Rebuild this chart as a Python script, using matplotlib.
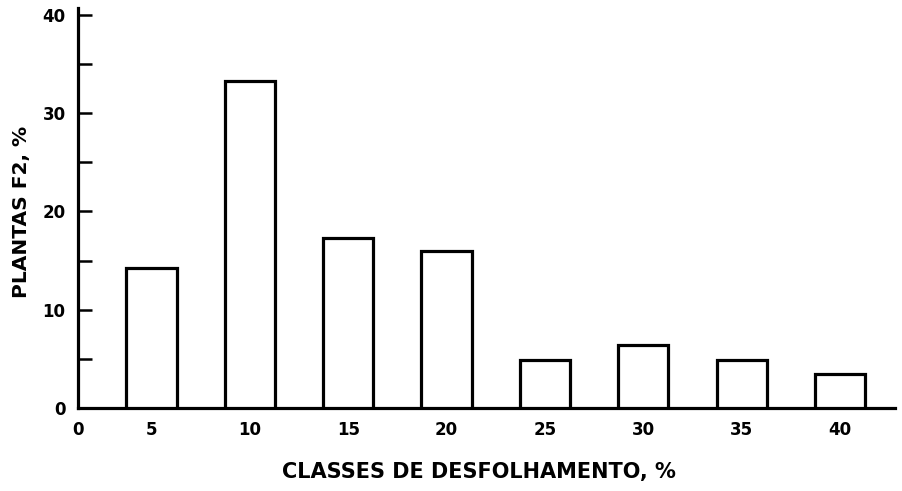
import matplotlib.pyplot as plt

# classes de desfolhamento (%) and share of F2 plants (%)
classes = [5, 10, 15, 20, 25, 30, 35, 40]
plantas = [14.2, 33.3, 17.3, 16.0, 4.9, 6.4, 4.9, 3.5]
class_labels = ["5", "10", "15", "20", "25", "30", "35", "40"]
y_ticks = [0, 5, 10, 15, 20, 25, 30, 35, 40]
y_labels = ["0", "", "10", "", "20", "", "30", "", "40"]

x_left = 1.27   # the hand-drawn axis origin sits a bit right of true zero
x_right = 42.8

fig = plt.figure(figsize=(9.02, 4.91), dpi=100)
ax = fig.add_axes([0.0865, 0.169, 0.906, 0.815])

ax.bar(classes, plantas, width=2.55, facecolor="white", edgecolor="black",
       linewidth=2.3, zorder=3)

ax.set_xlim(x_left, x_right)
ax.set_ylim(0, 40.7)

ax.spines["top"].set_visible(False)
ax.spines["right"].set_visible(False)
ax.spines["left"].set_linewidth(2.3)
ax.spines["bottom"].set_linewidth(2.3)

ax.set_xticks([x_left] + classes)
ax.set_xticklabels(["0"] + class_labels, fontsize=12, fontweight="bold")
ax.tick_params(axis="x", length=0, pad=9)

ax.set_yticks(y_ticks)
ax.set_yticklabels(y_labels, fontsize=12, fontweight="bold")
ax.tick_params(axis="y", direction="in", length=10, width=1.8, pad=9)

ax.set_xlabel("CLASSES DE DESFOLHAMENTO, %", fontsize=15, fontweight="bold")
ax.set_ylabel("PLANTAS F2, %", fontsize=14.5, fontweight="bold")
ax.xaxis.set_label_coords(0.49, -0.135)
ax.yaxis.set_label_coords(-0.058, 0.49)

fig.savefig("out.png", dpi=100)
